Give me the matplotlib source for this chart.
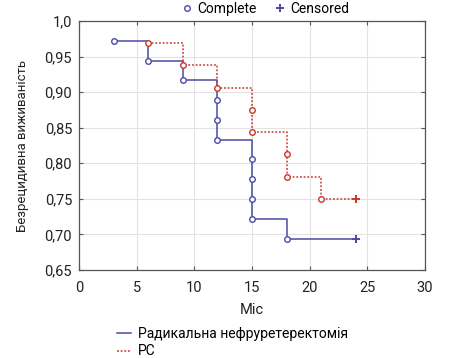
import matplotlib
matplotlib.use("Agg")
import matplotlib.pyplot as plt
from matplotlib.lines import Line2D
from matplotlib.ticker import FuncFormatter

plt.rcParams['font.family'] = ['Roboto', 'DejaVu Sans']

# Data (Kaplan-Meier events)
rne_times = [3, 6, 9, 12, 12, 12, 15, 15, 15, 15, 18]
rne_surv = [0.972, 0.944, 0.917, 0.889, 0.861, 0.833, 0.806, 0.778, 0.750, 0.722, 0.694]
rne_cens_time = [24]
rne_cens_surv = [0.694]

rc_times = [6, 9, 12, 15, 15, 18, 18, 21]
rc_surv = [0.969, 0.9375, 0.906, 0.875, 0.844, 0.8125, 0.781, 0.750]
rc_cens_time = [24]
rc_cens_surv = [0.750]

series_labels = ["Радикальна нефруретеректомія", "РС"]
x_ticks = [0, 5, 10, 15, 20, 25, 30]
y_ticks = [0.65, 0.70, 0.75, 0.80, 0.85, 0.90, 0.95, 1.0]

blue = "#4a4aa6"
red = "#c8372d"
txt = "#222222"

fig = plt.figure(figsize=(4.59, 3.58), dpi=100)
ax = fig.add_axes([79/459, 1-270/358, (425-79)/459, (270-21)/358])

def draw(times, surv, ctimes, csurv, color, ls):
    xs = list(times) + list(ctimes)
    ys = list(surv) + list(csurv)
    ax.step(xs, ys, where="post", color=color, linestyle=ls, lw=1.1, zorder=3)
    ax.plot(times, surv, "o", mfc="white", mec=color, mew=1.0, ms=4, zorder=4, linestyle="none")
    ax.plot(ctimes, csurv, "+", color=color, mew=1.4, ms=6, zorder=4, linestyle="none")

draw(rne_times, rne_surv, rne_cens_time, rne_cens_surv, blue, "-")
draw(rc_times, rc_surv, rc_cens_time, rc_cens_surv, red, (0, (1.2, 1.2)))

ax.set_xlim(0, 30)
ax.set_ylim(0.65, 1.0)
ax.set_xticks(x_ticks)
ax.set_yticks(y_ticks)

def yfmt(v, p):
    if abs(v - 1.0) < 1e-9:
        return "1,0"
    return f"{v:.2f}".replace(".", ",")
ax.yaxis.set_major_formatter(FuncFormatter(yfmt))
ax.grid(True, color="#e3e3e3", lw=0.8)
ax.set_axisbelow(True)
for s in ax.spines.values():
    s.set_color("#555555")
    s.set_linewidth(0.9)
ax.tick_params(direction="in", length=3, color="#555555", labelsize=10.5, labelcolor=txt,
               top=True, right=True)
ax.tick_params(axis="x", pad=8)
ax.tick_params(axis="y", pad=5)

ax.set_xlabel("Міс", fontsize=10.5, color=txt, labelpad=6)
ax.set_ylabel("Безрецидивна виживаність", fontsize=9.5, color=txt, labelpad=11)

# top legend
top_handles = [
    Line2D([], [], marker="o", mfc="white", mec=blue, ls="none", ms=4, mew=1.0),
    Line2D([], [], marker="+", color=blue, ls="none", ms=6, mew=1.4),
]
fig.legend(top_handles, ["Complete", "Censored"], loc="center", bbox_to_anchor=(266/459, 1-9/358),
           ncol=2, frameon=False, fontsize=10, handlelength=0.6, handletextpad=0.4,
           columnspacing=1.4, borderpad=0)

bot_handles = [
    Line2D([], [], color=blue, lw=1.1),
    Line2D([], [], color=red, lw=1.1, ls=(0, (1.2, 1.2))),
]
fig.legend(bot_handles, series_labels, loc="upper left", bbox_to_anchor=(110/459, 1-320/358),
           ncol=1, frameon=False, fontsize=10, handlelength=1.0, handletextpad=0.5,
           labelspacing=0.25, borderpad=0)

fig.savefig("out.png", dpi=100)
